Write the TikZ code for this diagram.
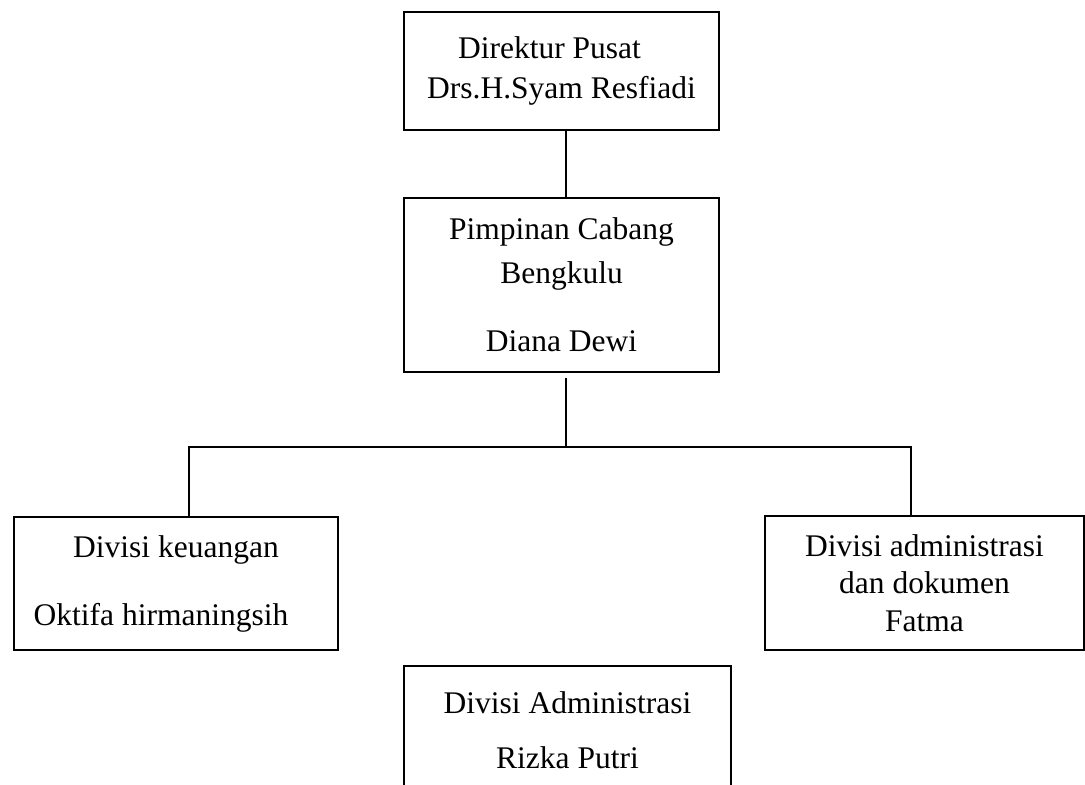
\documentclass[tikz,border=0pt]{standalone}
\usepackage{fontspec}
\setmainfont{Liberation Serif}
\usetikzlibrary{positioning}

\begin{document}
\begin{tikzpicture}[
x=0.5pt, y=-0.5pt,
line width=0.75pt,
   unit/.style = {draw, rectangle, inner sep=0pt, align=center,
                  font=\fontsize{15.75}{20}\selectfont},
   link/.style = {draw, line width=0.75pt}
                    ]
\path[use as bounding box, fill=white] (0,0) rectangle (1085,785);
\clip (0,0) rectangle (1085,785);

\node (dir) [unit, minimum width=157.5pt, minimum height=59pt] at (561.5,71)
      {Direktur Pusat\hspace*{12pt}\\ Drs.H.Syam Resfiadi};
\node (cab) [unit, minimum width=157.5pt, minimum height=87pt] at (561.5,285)
      {Pimpinan Cabang\\[2pt] Bengkulu\\[14pt] Diana Dewi};
\node (keu) [unit, minimum width=162pt, minimum height=66.5pt] at (176,583.5)
      {Divisi keuangan\\[14pt] Oktifa hirmaningsih\hspace*{15pt}};
\node (dok) [unit, minimum width=159.5pt, minimum height=67pt] at (924.5,583)
      {Divisi administrasi\\[-1.25pt] dan dokumen\\[-1.25pt] Fatma};
\node (adm) [unit, minimum width=163.5pt, minimum height=64pt] at (567.5,730)
      {Divisi Administrasi\\[7.5pt] Rizka Putri};

\coordinate (stem)      at (566,378);
\coordinate (junction)  at (566,447);
\coordinate (leftdrop)  at (189,447);
\coordinate (rightdrop) at (911,447);

\draw[link] (dir.south -| stem) -- (cab.north -| stem);
\draw[link] (stem) -- (junction);
\draw[link] (keu.north -| leftdrop) -- (leftdrop) -- (rightdrop) -- (dok.north -| rightdrop);
\end{tikzpicture}
\end{document}
